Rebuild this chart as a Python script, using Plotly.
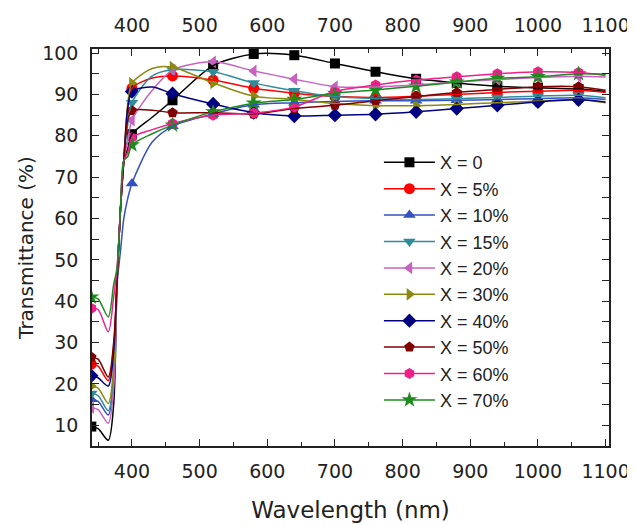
import plotly.graph_objects as go

# Wavelength grid (nm) used for each curve
WL = [340, 350, 365, 373, 378, 383, 388, 394, 400, 430, 460, 520, 580, 640,
      700, 760, 820, 880, 940, 1000, 1060, 1100]
# Wavelengths carrying a symbol
MARK_WL = [340, 400, 460, 520, 580, 640, 700, 760, 820, 880, 940, 1000, 1060]

NAMES = ["X = 0", "X = 5%", "X = 10%", "X = 15%", "X = 20%", "X = 30%",
         "X = 40%", "X = 50%", "X = 60%", "X = 70%"]

T_0 = [9.7, 9.2, 6.4, 15, 45, 62, 74, 77, 80.4, 84.5, 88.6, 97.0, 99.8, 99.5,
       97.5, 95.5, 93.8, 92.8, 92.0, 91.6, 91.3, 90.7]
T_5 = [24.8, 24.3, 20.8, 29, 45, 62, 74, 87, 91.5, 94.0, 94.5, 93.5, 91.5, 90.3,
       89.5, 89.3, 89.6, 90.0, 90.5, 90.8, 91.0, 90.5]
T_10 = [16.3, 15.8, 12.5, 21, 44, 52, 60, 65, 68.5, 78.5, 82.3, 85.3, 87.5, 88.0,
        88.3, 88.5, 88.5, 88.6, 88.8, 89.0, 89.2, 88.8]
T_15 = [17.7, 17.2, 13.5, 22, 45, 62, 74, 83, 88.0, 94.5, 96.0, 95.5, 92.8, 90.9,
        89.5, 89.0, 88.8, 89.0, 89.3, 89.6, 89.8, 89.2]
T_20 = [14.3, 13.8, 10.5, 19, 45, 62, 74, 79, 83.8, 91.0, 95.9, 97.9, 95.7, 93.7,
        91.9, 91.8, 92.3, 93.0, 93.6, 94.1, 94.4, 94.2]
T_30 = [19.5, 19.0, 15.3, 24, 45, 62, 74, 88, 92.7, 96.3, 96.6, 92.8, 89.6, 88.8,
        87.8, 87.3, 87.3, 87.6, 88.0, 88.4, 88.8, 88.0]
T_40 = [22.0, 21.5, 19.5, 28, 45, 62, 74, 87, 90.7, 91.8, 90.2, 87.7, 85.6, 84.8,
        85.0, 85.2, 85.8, 86.6, 87.4, 88.2, 88.7, 88.2]
T_50 = [26.5, 26.0, 21.7, 30, 45, 62, 74, 84, 86.1, 86.2, 85.6, 85.6, 85.3, 86.6,
        87.4, 88.5, 89.5, 90.5, 91.2, 91.9, 91.9, 91.0]
T_60 = [38.3, 38.0, 32.6, 41, 48, 62, 74, 76, 79.6, 81.5, 83.0, 85.0, 85.5, 87.0,
        90.8, 92.3, 93.5, 94.3, 95.0, 95.5, 95.3, 94.6]
T_70 = [41.0, 40.6, 36.2, 44, 48, 62, 74, 75, 77.8, 80.5, 82.6, 85.8, 87.9, 88.8,
        90.3, 91.1, 92.0, 93.0, 93.9, 94.3, 95.0, 94.9]

SERIES = [T_0, T_5, T_10, T_15, T_20, T_30, T_40, T_50, T_60, T_70]
COLORS = ["#000000", "#FF0000", "#3550C0", "#2F8C98", "#C862C0", "#8A8A10",
          "#000080", "#800000", "#F0208A", "#1E8A1E"]
SYMBOLS = ["square", "circle", "triangle-up", "triangle-down", "triangle-left",
           "triangle-right", "diamond", "pentagon", "hexagon", "star"]
SIZES = [10, 11, 11, 11, 11, 11, 11, 11, 11, 12]

FONT = "DejaVu Sans"
X_RANGE = [341, 1105]
X_TICKS = [400, 500, 600, 700, 800, 900, 1000, 1100]
X_MINOR = [350, 450, 550, 650, 750, 850, 950, 1050]

fig = go.Figure()

for name, ys, col, sym, sz in zip(NAMES, SERIES, COLORS, SYMBOLS, SIZES):
    fig.add_trace(go.Scatter(
        x=WL, y=ys, mode="lines", xaxis="x2",
        line=dict(color=col, width=1.5, shape="spline", smoothing=0.8),
        showlegend=False, hoverinfo="skip"))
    mx = [w for w in WL if w in MARK_WL]
    my = [v for w, v in zip(WL, ys) if w in MARK_WL]
    fig.add_trace(go.Scatter(
        x=mx, y=my, mode="markers",
        marker=dict(symbol=sym, size=sz, color=col, line=dict(width=0)),
        showlegend=False))

for name, col, sym, sz in zip(NAMES, COLORS, SYMBOLS, SIZES):
    fig.add_trace(go.Scatter(
        x=[None], y=[None], mode="lines+markers", name=name,
        line=dict(color=col, width=1.5),
        marker=dict(symbol=sym, size=sz, color=col, line=dict(width=0))))

axis_common = dict(
    showline=True, linecolor="#222", linewidth=1.6,
    ticks="inside", ticklen=7, tickwidth=1.4, tickcolor="#222",
    showgrid=False, zeroline=False, automargin=False,
    tickfont=dict(family=FONT, size=19, color="#222"),
)
minor_x = dict(ticks="inside", ticklen=4, tickwidth=1.2, tickcolor="#222", tickvals=X_MINOR)

fig.update_layout(
    width=635, height=525,
    margin=dict(l=84, r=34, t=41, b=87),
    paper_bgcolor="white", plot_bgcolor="white",
    font=dict(family=FONT, color="#222"),
    xaxis=dict(
        range=X_RANGE, tickvals=X_TICKS, minor=minor_x,
        title=dict(text="Wavelength (nm)", font=dict(family=FONT, size=23, color="#222"),
                   standoff=21),
        ticklabelstandoff=7,
        **axis_common),
    xaxis2=dict(
        range=X_RANGE, tickvals=X_TICKS, minor=minor_x,
        overlaying="x", side="top", anchor="y",
        ticklabelstandoff=8,
        **axis_common),
    yaxis=dict(
        range=[5, 101], tick0=0, dtick=10, mirror="allticks",
        minor=dict(ticks="inside", ticklen=4, tickwidth=1.2, tickcolor="#222", dtick=5),
        title=dict(text="Transmittance (%)", font=dict(family=FONT, size=20, color="#222"),
                   standoff=3),
        ticklabelstandoff=8,
        **axis_common),
    legend=dict(
        x=0.555, y=0.7605, xanchor="left", yanchor="top",
        bgcolor="rgba(0,0,0,0)", borderwidth=0,
        font=dict(family="Liberation Sans", size=18, color="#222"),
        itemwidth=51, tracegroupgap=0,
    ),
)

fig.write_html("out.html")
